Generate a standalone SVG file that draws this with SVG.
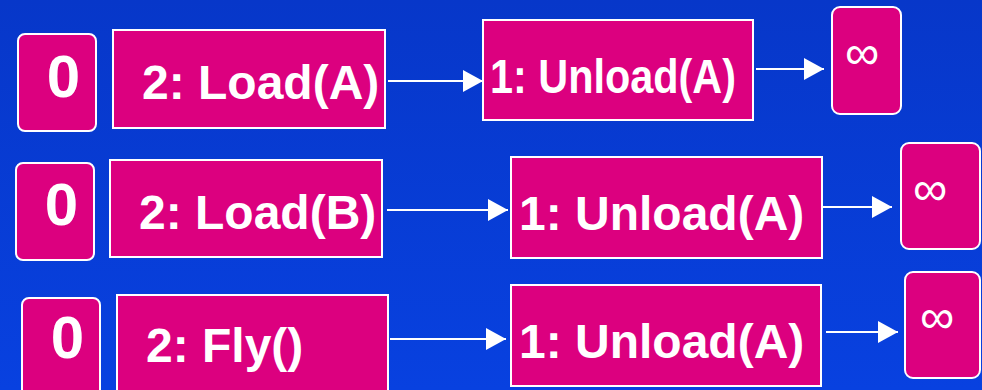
<svg xmlns="http://www.w3.org/2000/svg" width="982" height="390" viewBox="0 0 982 390">
  <defs>
    <linearGradient id="bg" x1="0" y1="0" x2="0" y2="1">
      <stop offset="0" stop-color="#0737c9"/>
      <stop offset="1" stop-color="#0841e0"/>
    </linearGradient>
    <marker id="head" viewBox="0 0 20 22" refX="20" refY="11" markerWidth="20" markerHeight="22" markerUnits="userSpaceOnUse" orient="auto">
      <path d="M0,0 L20,11 L0,22 Z" fill="#ffffff"/>
    </marker>
    <style>
      .box { fill: #dc007f; stroke: #ffffff; stroke-width: 2; }
      .lbl { font-family: "Liberation Sans", Arial, sans-serif; font-weight: bold; fill: #ffffff; }
      .big { font-size: 48px; }
      .zero { font-size: 60px; text-anchor: middle; }
      .inf { font-family: "Liberation Sans", Arial, sans-serif; font-weight: normal; font-size: 48px; text-anchor: middle; fill: #ffffff; }
      .edge { stroke: #ffffff; stroke-width: 2; fill: none; marker-end: url(#head); }
    </style>
  </defs>

  <rect x="0" y="0" width="982" height="390" fill="url(#bg)"/>

  <!-- row 1 -->
  <g id="start1">
    <rect class="box" x="18" y="34" width="78" height="97" rx="7"/>
    <text class="lbl zero" x="63.5" y="97">0</text>
  </g>
  <g id="loadA">
    <rect class="box" x="113" y="30" width="272" height="98"/>
    <text class="lbl big" x="142" y="99">2: Load(A)</text>
  </g>
  <g id="unload1">
    <rect class="box" x="483" y="20" width="270" height="100"/>
    <text class="lbl big" x="490" y="93" textLength="246" lengthAdjust="spacingAndGlyphs">1: Unload(A)</text>
  </g>
  <g id="goal1">
    <rect class="box" x="832" y="7" width="69" height="107" rx="8"/>
    <text class="inf" x="862" y="69">∞</text>
  </g>

  <!-- row 2 -->
  <g id="start2">
    <rect class="box" x="16" y="163" width="78" height="97" rx="7"/>
    <text class="lbl zero" x="61.5" y="225">0</text>
  </g>
  <g id="loadB">
    <rect class="box" x="110" y="160" width="272" height="97"/>
    <text class="lbl big" x="139" y="229">2: Load(B)</text>
  </g>
  <g id="unload2">
    <rect class="box" x="511" y="157" width="311" height="101"/>
    <text class="lbl big" x="519" y="230">1: Unload(A)</text>
  </g>
  <g id="goal2">
    <rect class="box" x="901" y="143" width="79" height="106" rx="8"/>
    <text class="inf" x="930" y="205">∞</text>
  </g>

  <!-- row 3 -->
  <g id="start3">
    <rect class="box" x="22" y="298" width="78" height="100" rx="7"/>
    <text class="lbl zero" x="67.5" y="358">0</text>
  </g>
  <g id="fly">
    <rect class="box" x="117" y="295" width="271" height="100"/>
    <text class="lbl big" x="146" y="362">2: Fly()</text>
  </g>
  <g id="unload3">
    <rect class="box" x="511" y="285" width="310" height="101"/>
    <text class="lbl big" x="519" y="358">1: Unload(A)</text>
  </g>
  <g id="goal3">
    <rect class="box" x="905" y="272" width="75" height="106" rx="8"/>
    <text class="inf" x="937" y="333">∞</text>
  </g>

  <!-- connectors -->
  <g id="connectors">
    <line class="edge" x1="388" y1="81" x2="483" y2="81"/>
    <line class="edge" x1="756" y1="69" x2="824" y2="69"/>
    <line class="edge" x1="387" y1="210" x2="508" y2="210"/>
    <line class="edge" x1="823" y1="207" x2="892" y2="207"/>
    <line class="edge" x1="390" y1="339" x2="506" y2="339"/>
    <line class="edge" x1="826" y1="332" x2="898" y2="332"/>
  </g>
</svg>
